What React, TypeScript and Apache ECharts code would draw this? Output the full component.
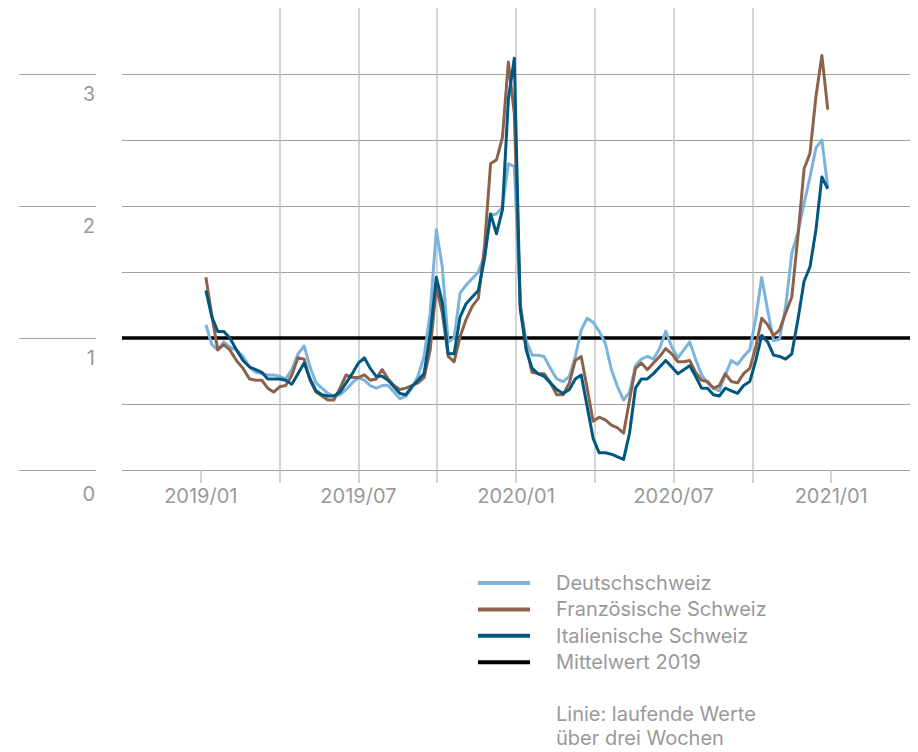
import React, { useEffect, useRef } from "react";
import * as echarts from "echarts";

// First week of the weekly series (running three-week values)
const FIRST_WEEK = [2019, 0, 7];

const deutschschweiz = [
  1.10, 0.95, 0.91, 0.97, 0.93, 0.91, 0.86, 0.78, 0.74, 0.73,
  0.72, 0.72, 0.71, 0.69, 0.76, 0.88, 0.94, 0.78, 0.66, 0.62,
  0.58, 0.56, 0.57, 0.61, 0.66, 0.70, 0.68, 0.64, 0.62, 0.64,
  0.64, 0.59, 0.54, 0.56, 0.62, 0.71, 0.86, 1.19, 1.82, 1.54,
  0.97, 1.00, 1.34, 1.40, 1.45, 1.50, 1.62, 1.93, 1.94, 1.99,
  2.32, 2.30, 1.25, 0.98, 0.87, 0.87, 0.86, 0.77, 0.69, 0.67,
  0.71, 0.86, 1.06, 1.15, 1.12, 1.05, 0.96, 0.76, 0.63, 0.53,
  0.59, 0.79, 0.84, 0.86, 0.84, 0.92, 1.05, 0.93, 0.85, 0.91,
  0.97, 0.84, 0.72, 0.66, 0.62, 0.60, 0.72, 0.83, 0.80, 0.86,
  0.91, 1.15, 1.46, 1.21, 0.98, 0.99, 1.24, 1.64, 1.80, 2.02,
  2.22, 2.44, 2.50, 2.14,
];

const franzoesischeSchweiz = [
  1.46, 1.17, 0.91, 0.95, 0.91, 0.83, 0.77, 0.69, 0.68, 0.68,
  0.62, 0.59, 0.63, 0.64, 0.72, 0.85, 0.84, 0.68, 0.59, 0.56,
  0.53, 0.53, 0.62, 0.72, 0.70, 0.70, 0.72, 0.68, 0.69, 0.76,
  0.69, 0.64, 0.61, 0.62, 0.64, 0.66, 0.70, 0.91, 1.39, 1.19,
  0.86, 0.82, 1.01, 1.14, 1.24, 1.30, 1.69, 2.32, 2.35, 2.52,
  3.09, 2.70, 1.25, 0.93, 0.74, 0.73, 0.73, 0.66, 0.57, 0.57,
  0.66, 0.83, 0.86, 0.62, 0.37, 0.40, 0.38, 0.34, 0.32, 0.28,
  0.53, 0.77, 0.81, 0.76, 0.81, 0.86, 0.92, 0.88, 0.82, 0.82,
  0.83, 0.74, 0.68, 0.67, 0.62, 0.64, 0.73, 0.67, 0.66, 0.73,
  0.77, 0.93, 1.15, 1.10, 1.02, 1.06, 1.19, 1.31, 1.77, 2.28,
  2.40, 2.83, 3.14, 2.73,
];

const italienischeSchweiz = [
  1.36, 1.16, 1.05, 1.05, 1.00, 0.91, 0.83, 0.78, 0.76, 0.74,
  0.69, 0.69, 0.69, 0.68, 0.65, 0.73, 0.81, 0.69, 0.60, 0.57,
  0.56, 0.56, 0.59, 0.66, 0.73, 0.81, 0.85, 0.77, 0.71, 0.71,
  0.68, 0.63, 0.58, 0.57, 0.63, 0.68, 0.73, 1.03, 1.46, 1.27,
  0.88, 0.88, 1.16, 1.26, 1.31, 1.36, 1.60, 1.94, 1.79, 1.97,
  2.81, 3.12, 1.22, 0.91, 0.77, 0.73, 0.71, 0.66, 0.61, 0.58,
  0.61, 0.69, 0.72, 0.48, 0.24, 0.13, 0.13, 0.12, 0.10, 0.08,
  0.28, 0.62, 0.69, 0.69, 0.73, 0.78, 0.83, 0.78, 0.73, 0.76,
  0.79, 0.71, 0.62, 0.62, 0.57, 0.56, 0.62, 0.60, 0.58, 0.64,
  0.67, 0.83, 1.02, 0.97, 0.87, 0.86, 0.84, 0.88, 1.14, 1.43,
  1.54, 1.82, 2.22, 2.13,
];

const mittelwert2019 = 1;

// x axis in months since 2019/01; labels every 6 months, gridlines quarterly
const monthTicks = [0, 3, 6, 9, 12, 15, 18, 21, 24];
const tickLabels: Record<number, string> = {
  0: "2019/01",
  6: "2019/07",
  12: "2020/01",
  18: "2020/07",
  24: "2021/01",
};
const yTickLabels = ["0", "1", "2", "3"];

const seriesNames = [
  "Deutschschweiz",
  "Französische Schweiz",
  "Italienische Schweiz",
  "Mittelwert 2019",
];
const colors = ["#7ab4dc", "#8c624a", "#00577f", "#000000"];

const FONT = "Inter, 'Liberation Sans', Arial, sans-serif";
const GREY = "#999999";
const FS = 20;

function monthPos(i: number): number {
  const t = Date.UTC(FIRST_WEEK[0], FIRST_WEEK[1], FIRST_WEEK[2]) + i * 7 * 86400000;
  const d = new Date(t);
  const y = d.getUTCFullYear();
  const m = d.getUTCMonth();
  const dim = new Date(Date.UTC(y, m + 1, 0)).getUTCDate();
  return (y - 2019) * 12 + m + (d.getUTCDate() - 1) / dim;
}

function toPairs(vals: number[]) {
  return vals.map((v, i) => [monthPos(i), v]);
}

export default function App() {
  const ref = useRef<HTMLDivElement>(null);
  useEffect(() => {
    if (!ref.current) return;
    const chart = echarts.init(ref.current, undefined, { renderer: "svg" });
    const lineSeries = (name: string, vals: number[], color: string) => ({
      name,
      type: "line",
      xAxisIndex: 0,
      yAxisIndex: 0,
      data: toPairs(vals),
      symbol: "none",
      color,
      lineStyle: { width: 3, color, join: "round" },
      itemStyle: { color },
      z: 3,
    });
    chart.setOption({
      animation: false,
      backgroundColor: "#ffffff",
      textStyle: { fontFamily: FONT },
      title: {
        text: "Linie: laufende Werte\nüber drei Wochen",
        left: 556,
        top: 702,
        padding: 0,
        textStyle: {
          fontSize: FS,
          lineHeight: 24,
          color: GREY,
          fontWeight: "normal",
          fontFamily: FONT,
        },
      },
      legend: {
        data: seriesNames,
        orient: "vertical",
        left: 478,
        top: 572,
        padding: 0,
        itemWidth: 52,
        itemHeight: 4,
        itemGap: 4.4,
        icon: "rect",
        selectedMode: false,
        textStyle: {
          fontSize: FS,
          lineHeight: 22,
          color: GREY,
          fontFamily: FONT,
          padding: [0, 0, 0, 21],
        },
      },
      grid: [
        { left: 122, right: 8, top: 8, bottom: 282 },
        { left: 19, width: 77, top: 8, bottom: 282 },
      ],
      xAxis: [
        {
          type: "value",
          gridIndex: 0,
          min: -3,
          max: 27,
          interval: 3,
          axisLine: { show: false },
          axisTick: {
            show: true,
            length: 13,
            customValues: monthTicks,
            lineStyle: { color: "#c4c4c4", width: 1.5 },
          },
          splitLine: {
            show: true,
            showMinLine: false,
            showMaxLine: false,
            lineStyle: { color: "#c4c4c4", width: 1.5 },
          },
          axisLabel: {
            customValues: Object.keys(tickLabels).map(Number),
            formatter: (v: number) => tickLabels[Math.round(v)] ?? "",
            color: GREY,
            fontSize: FS,
            lineHeight: 20,
            margin: 16,
            fontFamily: FONT,
          },
        },
        {
          type: "value",
          gridIndex: 1,
          min: 0,
          max: 1,
          show: false,
        },
      ],
      yAxis: [
        {
          type: "value",
          gridIndex: 0,
          min: 0,
          max: 3.5,
          interval: 0.5,
          axisLine: { show: false },
          axisTick: { show: false },
          splitLine: {
            show: true,
            showMaxLine: false,
            lineStyle: { color: "#a3a3a3", width: 1.2 },
          },
          axisLabel: {
            formatter: (v: number) => {
              if (Math.abs(v - Math.round(v)) > 1e-6) return "";
              const s = yTickLabels[Math.round(v)] ?? "";
              return v === 0 ? "{zero|" + s + "}" : s;
            },
            color: GREY,
            fontSize: FS,
            lineHeight: 20,
            margin: 27,
            align: "right",
            verticalAlign: "top",
            padding: [10, 0, 0, 0],
            fontFamily: FONT,
            rich: {
              zero: {
                fontSize: FS,
                lineHeight: 20,
                color: GREY,
                fontFamily: FONT,
                padding: [7, 0, 0, 0],
              },
            },
          },
        },
        {
          type: "value",
          gridIndex: 1,
          min: 0,
          max: 3.5,
          interval: 1,
          axisLine: { show: false },
          axisTick: { show: false },
          axisLabel: { show: false },
          splitLine: {
            show: true,
            showMaxLine: false,
            lineStyle: { color: "#a3a3a3", width: 1.2 },
          },
        },
      ],
      series: [
        {
          name: seriesNames[3],
          type: "line",
          xAxisIndex: 0,
          yAxisIndex: 0,
          data: [
            [-3, mittelwert2019],
            [27, mittelwert2019],
          ],
          symbol: "none",
          color: colors[3],
          lineStyle: { width: 3.5, color: colors[3] },
          itemStyle: { color: colors[3] },
          z: 2,
        },
        lineSeries(seriesNames[0], deutschschweiz, colors[0]),
        lineSeries(seriesNames[1], franzoesischeSchweiz, colors[1]),
        lineSeries(seriesNames[2], italienischeSchweiz, colors[2]),
      ],
    });
    return () => chart.dispose();
  }, []);
  return (
    <div
      ref={ref}
      style={{ position: "fixed", left: 0, top: 0, width: 918, height: 752 }}
    />
  );
}
